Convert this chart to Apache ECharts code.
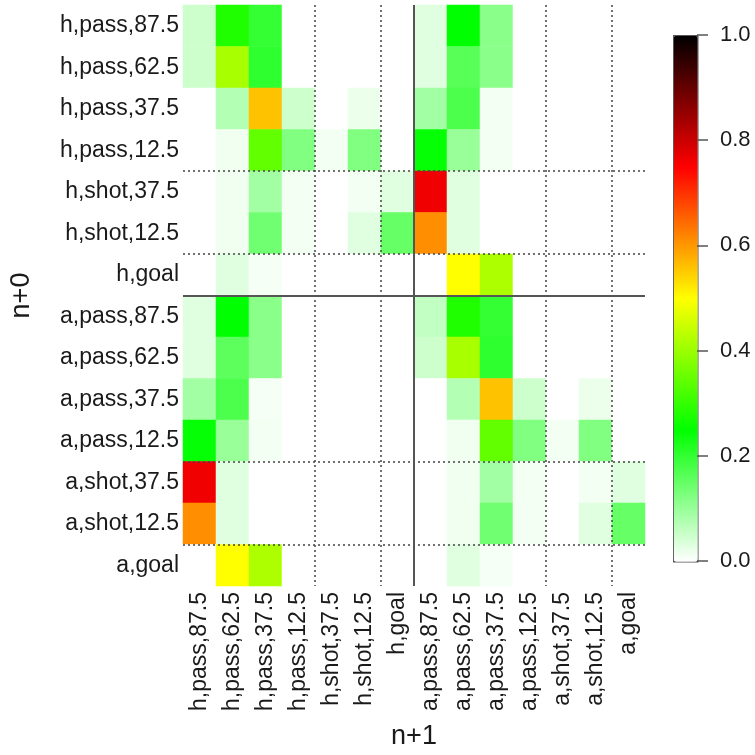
<!DOCTYPE html>
<html>
<head>
<meta charset="utf-8">
<script src="https://cdn.jsdelivr.net/npm/echarts@6/dist/echarts.min.js"></script>
<style>
  html, body { margin: 0; padding: 0; background: #ffffff; }
  #chart { width: 755px; height: 755px; }
</style>
</head>
<body>
<div id="chart"></div>
<script>
// States (team, event, zone) for the transition matrix n+0 -> n+1
const states = [
  'h,pass,87.5', 'h,pass,62.5', 'h,pass,37.5', 'h,pass,12.5',
  'h,shot,37.5', 'h,shot,12.5', 'h,goal',
  'a,pass,87.5', 'a,pass,62.5', 'a,pass,37.5', 'a,pass,12.5',
  'a,shot,37.5', 'a,shot,12.5', 'a,goal'
];

// Transition probabilities, one row per current state (columns follow `states`)
const hPass875 = [0.05, 0.28, 0.20, 0, 0, 0, 0, 0.03, 0.25, 0.115, 0, 0, 0, 0];
const hPass625 = [0.05, 0.415, 0.205, 0, 0, 0, 0, 0.03, 0.165, 0.115, 0, 0, 0, 0];
const hPass375 = [0, 0.075, 0.56, 0.05, 0, 0.02, 0, 0.09, 0.175, 0.012, 0, 0, 0, 0];
const hPass125 = [0, 0.015, 0.345, 0.125, 0.012, 0.125, 0, 0.245, 0.10, 0.012, 0, 0, 0, 0];
const hShot375 = [0, 0.015, 0.09, 0.012, 0, 0.012, 0.03, 0.765, 0.03, 0, 0, 0, 0, 0];
const hShot125 = [0, 0.015, 0.14, 0.012, 0, 0.03, 0.15, 0.61, 0.03, 0, 0, 0, 0, 0];
const hGoal    = [0, 0.03, 0.01, 0, 0, 0, 0, 0, 0.50, 0.42, 0, 0, 0, 0];
const aPass875 = [0.03, 0.25, 0.115, 0, 0, 0, 0, 0.06, 0.28, 0.20, 0, 0, 0, 0];
const aPass625 = [0.03, 0.16, 0.115, 0, 0, 0, 0, 0.05, 0.415, 0.205, 0, 0, 0, 0];
const aPass375 = [0.09, 0.175, 0.01, 0, 0, 0, 0, 0, 0.075, 0.56, 0.05, 0, 0.02, 0];
const aPass125 = [0.245, 0.10, 0.012, 0, 0, 0, 0, 0, 0.015, 0.345, 0.125, 0.012, 0.125, 0];
const aShot375 = [0.765, 0.03, 0, 0, 0, 0, 0, 0, 0.015, 0.09, 0.012, 0, 0.012, 0.03];
const aShot125 = [0.61, 0.03, 0, 0, 0, 0, 0, 0, 0.015, 0.14, 0.012, 0, 0.03, 0.15];
const aGoal    = [0, 0.50, 0.42, 0, 0, 0, 0, 0, 0.03, 0.01, 0, 0, 0, 0];

const rows = [hPass875, hPass625, hPass375, hPass125, hShot375, hShot125, hGoal,
              aPass875, aPass625, aPass375, aPass125, aShot375, aShot125, aGoal];

// Block boundaries (number of states before the break):
// dotted between event groups, solid between the two teams
const dottedBreaks = [4, 6, 11, 13];
const solidBreaks = [7];

const cells = [];
rows.forEach((row, r) => row.forEach((v, c) => cells.push([c, r, v])));

const font = 'Liberation Sans, Arial, Helvetica, sans-serif';
const textColor = '#1a1a1a';
const dotted = { color: '#444', width: 1.5, type: [2, 3] };
const solid = { color: '#555', width: 2, type: 'solid' };

// Break lines live on a hidden continuous scale spanning 0..n states
const breakLines = [];
dottedBreaks.forEach((b) => {
  breakLines.push({ xAxis: b, lineStyle: dotted });
  breakLines.push({ yAxis: b, lineStyle: dotted });
});
solidBreaks.forEach((b) => {
  breakLines.push({ xAxis: b, lineStyle: solid });
  breakLines.push({ yAxis: b, lineStyle: solid });
});

const chart = echarts.init(document.getElementById('chart'), null, { renderer: 'canvas' });

chart.setOption({
  animation: false,
  backgroundColor: '#ffffff',
  grid: [
    { left: 180, top: 5, width: 465, height: 585, containLabel: false },
    { left: 673, top: 35, width: 24, height: 526, containLabel: false }
  ],
  xAxis: [
    {
      type: 'category', gridIndex: 0, data: states, position: 'bottom',
      axisLine: { show: false }, axisTick: { show: false },
      axisLabel: { rotate: 90, interval: 0, margin: 6, fontSize: 23, color: textColor, fontFamily: font },
      splitLine: { show: false },
      name: 'n+1', nameLocation: 'middle', nameGap: 137,
      nameTextStyle: { fontSize: 27, color: textColor, fontFamily: font }
    },
    {
      type: 'category', gridIndex: 1, data: [''], show: false
    },
    {
      type: 'value', gridIndex: 0, min: 0, max: states.length, show: false
    }
  ],
  yAxis: [
    {
      type: 'category', gridIndex: 0, data: states, inverse: true,
      axisLine: { show: false }, axisTick: { show: false },
      axisLabel: { interval: 0, margin: 4, fontSize: 23, color: textColor, fontFamily: font },
      splitLine: { show: false },
      name: 'n+0', nameLocation: 'middle', nameGap: 148, nameRotate: 90,
      nameTextStyle: { fontSize: 27, color: textColor, fontFamily: font }
    },
    {
      type: 'value', gridIndex: 1, min: 0, max: 1, interval: 0.2, position: 'right', z: 12,
      axisLine: { show: false },
      axisTick: { show: true, inside: false, length: 11, lineStyle: { color: '#555', width: 1.5 } },
      axisLabel: { margin: 23, fontSize: 22, color: textColor, fontFamily: font,
                   formatter: (v) => v.toFixed(1) },
      splitLine: { show: false }
    },
    {
      type: 'value', gridIndex: 0, min: 0, max: states.length, inverse: true, show: false
    }
  ],
  visualMap: {
    type: 'continuous', min: 0, max: 1, calculable: false, realtime: false,
    orient: 'vertical', left: 673, top: 35, itemWidth: 24, itemHeight: 526,
    padding: 0, showLabel: false, text: null,
    borderColor: '#555', borderWidth: 1.5,
    inRange: { color: ['#ffffff', '#00ff00', '#ffff00', '#ff0000', '#000000'] },
    seriesIndex: 0
  },
  series: [
    {
      type: 'heatmap', xAxisIndex: 0, yAxisIndex: 0, data: cells,
      itemStyle: { borderWidth: 0 }, emphasis: { disabled: true }
    },
    {
      type: 'line', xAxisIndex: 2, yAxisIndex: 2, data: [], z: 5,
      silent: true, symbol: 'none',
      markLine: {
        silent: true, symbol: ['none', 'none'], animation: false,
        label: { show: false }, emphasis: { disabled: true },
        data: breakLines
      }
    }
  ]
});
</script>
</body>
</html>
